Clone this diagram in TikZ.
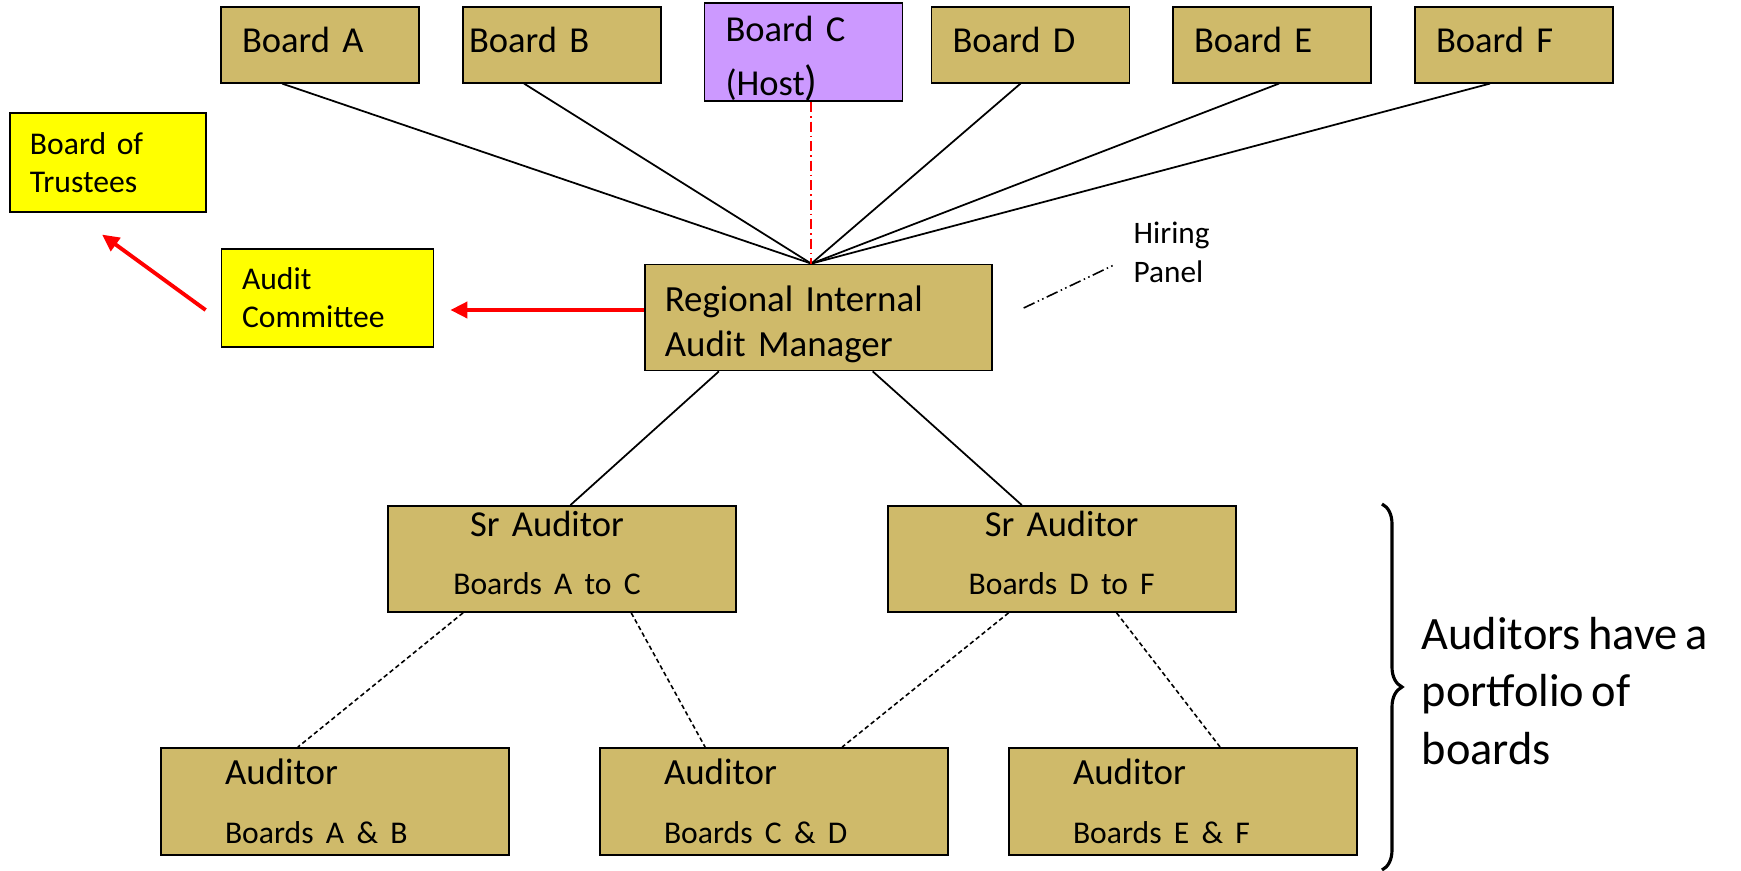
\documentclass[tikz,border=0pt]{standalone}
\usepackage{fontspec}
\setmainfont{Carlito}[WordSpace=0.7]
\usetikzlibrary{arrows.meta,positioning,calc,decorations.pathreplacing}
\definecolor{boardtan}{RGB}{207,186,106}
\definecolor{hostlilac}{RGB}{204,153,255}
\definecolor{govyellow}{RGB}{255,255,0}

\begin{document}
\begin{tikzpicture}[x=0.1mm, y=-0.1mm,
    box/.style={rectangle, draw=black, line width=0.5pt, fill=boardtan,
                inner ysep=0pt, align=left},
    board/.style={box, minimum width=19.8mm, minimum height=7.6mm,
                  inner xsep=2.1mm, text width=15.6mm,
                  font=\fontsize{10.4}{15.4}\selectfont},
    gov/.style={box, fill=govyellow, inner xsep=2mm,
                font=\fontsize{9}{10.8}\selectfont},
    staff/.style={box, minimum width=34.8mm, minimum height=10.6mm,
                  font=\fontsize{10.4}{16.5}\selectfont},
    link/.style={line width=0.5pt},
    dashlink/.style={line width=0.45pt, dash pattern=on 0.45mm off 0.3mm},
    redarr/.style={-{Triangle[length=1.7mm, width=1.6mm]}, red, line width=1.1pt},
]
\useasboundingbox (0,0) rectangle (1741,871);

% boards
\node[board, text depth=1mm] (bA) at (320,44.7) {Board A};
\node[board, text depth=1mm, inner xsep=0.6mm, text width=18.6mm] (bB) at (562,44.7) {Board B};
\node[board, fill=hostlilac, minimum height=9.13mm] (bC) at (803.5,52.3)
  {\rule{0pt}{3.8mm}Board C\\(Host{\fontsize{12}{12}\selectfont)}};
\node[board, text depth=1mm] (bD) at (1030.5,44.7) {Board D};
\node[board, text depth=1mm] (bE) at (1272,44.7) {Board E};
\node[board, text depth=1mm] (bF) at (1514,44.7) {Board F};

% governance
\node[gov, minimum width=19.6mm, minimum height=9.9mm, text width=15.6mm]
  (trus) at (108,162.2) {Board of\\Trustees};
\node[gov, minimum width=21.2mm, minimum height=9.86mm, text width=17.1mm]
  (audit) at (327.5,298) {Audit\\Committee};

% manager
\node[box, minimum width=34.7mm, minimum height=10.6mm, inner xsep=2mm,
      text width=30.7mm, font=\fontsize{10.5}{12.8}\selectfont]
  (riam) at (818.3,317.5) {\rule{0pt}{3.9mm}Regional Internal\\Audit Manager};
\node[font=\fontsize{8.9}{11.1}\selectfont, align=left, inner sep=0pt,
      anchor=west] (hire) at (1133,252) {Hiring\\Panel};
\coordinate (hub) at ([xshift=-0.7mm]riam.north);

\draw[link] ($(bA.south west)!0.31!(bA.south east)$) -- (hub);
\draw[link] ($(bB.south west)!0.31!(bB.south east)$) -- (hub);
\draw[link] ($(bD.south west)!0.45!(bD.south east)$) -- (hub);
\draw[link] ($(bE.south west)!0.535!(bE.south east)$) -- (hub);
\draw[link] ($(bF.south west)!0.38!(bF.south east)$) -- (hub);
\draw[red, line width=0.5pt, dash pattern=on 1mm off 0.4mm on 0.15mm off 0.4mm]
  (bC.south -| hub) -- (hub);
\draw[line width=0.45pt,
      dash pattern=on 1.2mm off 0.35mm on 0.15mm off 0.35mm on 0.15mm off 0.35mm]
  ([shift={(3.1mm,0.95mm)}]riam.east) -- ([shift={(-1.9mm,-1.3mm)}]hire.west);

\draw[redarr] ([yshift=0.75mm]riam.west) -- ([shift={(1.6mm,-1.2mm)}]audit.east);
\draw[redarr] ([shift={(-1.5mm,-1.2mm)}]audit.west) -- ([shift={(-0.6mm,-2.2mm)}]trus.south);

% senior auditors
\node[staff, align=center, text width=30mm] (srL) at (562,559)
  {\hspace*{-3mm}Sr Auditor\\\hspace*{-3mm}{\fontsize{9}{16.5}\selectfont Boards A to C}\rule[-1.2mm]{0pt}{1.2mm}};
\node[staff, align=center, text width=30mm] (srR) at (1061.7,559)
  {Sr Auditor\\{\fontsize{9}{16.5}\selectfont Boards D to F}\rule[-1.2mm]{0pt}{1.2mm}};
\draw[link] ($(riam.south west)!0.215!(riam.south east)$) -- ($(srL.north west)!0.524!(srL.north east)$);
\draw[link] ($(riam.south west)!0.656!(riam.south east)$) -- ($(srR.north west)!0.386!(srR.north east)$);

% auditors
\node[staff, minimum height=10.7mm, inner xsep=6.4mm, text width=22mm,
      font=\fontsize{10.5}{16.8}\selectfont] (audA) at (335,801.4)
  {Auditor\\{\fontsize{9}{16.8}\selectfont Boards A \& B}};
\node[staff, minimum height=10.7mm, inner xsep=6.4mm, text width=22mm,
      font=\fontsize{10.5}{16.8}\selectfont] (audC) at (774,801.4)
  {Auditor\\{\fontsize{9}{16.8}\selectfont Boards C \& D}};
\node[staff, minimum height=10.7mm, inner xsep=6.4mm, text width=22mm,
      font=\fontsize{10.5}{16.8}\selectfont] (audE) at (1183,801.4)
  {Auditor\\{\fontsize{9}{16.8}\selectfont Boards E \& F}};
\draw[dashlink] ($(srL.south west)!0.217!(srL.south east)$) -- ($(audA.north west)!0.394!(audA.north east)$);
\draw[dashlink] ($(srL.south west)!0.698!(srL.south east)$) -- ($(audC.north west)!0.303!(audC.north east)$);
\draw[dashlink] ($(srR.south west)!0.348!(srR.south east)$) -- ($(audC.north west)!0.695!(audC.north east)$);
\draw[dashlink] ($(srR.south west)!0.657!(srR.south east)$) -- ($(audE.north west)!0.606!(audE.north east)$);

% portfolio brace
\draw[decorate, decoration={brace, amplitude=2mm}, line width=0.9pt]
  (1382,504) -- (1382,870);
\node[font=\fontsize{13.2}{16.4}\selectfont, align=left, inner sep=0pt,
      anchor=west] (note) at (1421,691) {Auditors have a\\portfolio of\\boards};

\end{tikzpicture}
\end{document}
